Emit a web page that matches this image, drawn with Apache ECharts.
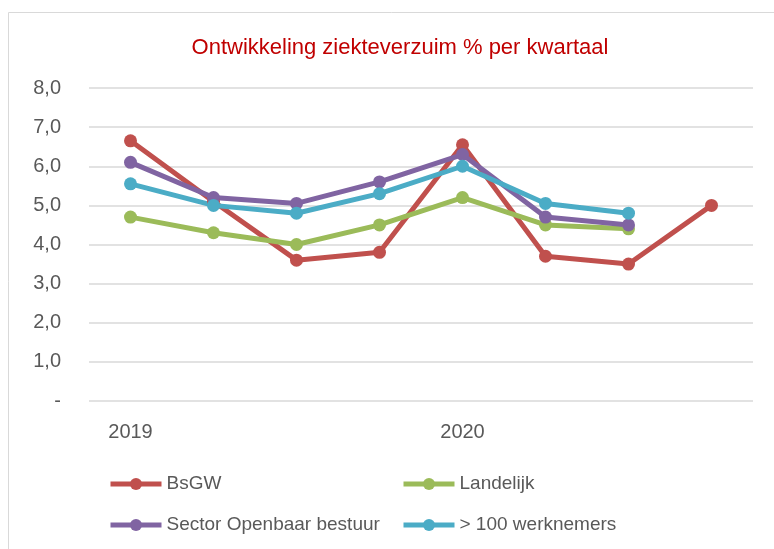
<!DOCTYPE html>
<html>
<head>
<meta charset="utf-8">
<script src="https://cdn.jsdelivr.net/npm/echarts@6/dist/echarts.min.js"></script>
<style>
  html, body { margin: 0; padding: 0; background: #fff; }
  #main { width: 774px; height: 549px; }
</style>
</head>
<body>
<div id="main"></div>
<script>
// kwartalen, alleen het eerste kwartaal van elk jaar krijgt een label
var kwartalen = ['2019', '', '', '', '2020', '', '', ''];
var bsgw = [6.65, 5.1, 3.6, 3.8, 6.55, 3.7, 3.5, 5.0];
var landelijk = [4.7, 4.3, 4.0, 4.5, 5.2, 4.5, 4.4, null];
var sector = [6.1, 5.2, 5.05, 5.6, 6.3, 4.7, 4.5, null];
var werknemers = [5.55, 5.0, 4.8, 5.3, 6.0, 5.05, 4.8, null];

var font = 'Liberation Sans';
var tekst = '#595959';

function lijn(naam, data, kleur) {
    return {
        name: naam,
        type: 'line',
        data: data,
        symbol: 'circle',
        symbolSize: 13,
        lineStyle: { width: 5, color: kleur },
        itemStyle: { color: kleur },
        emphasis: { disabled: true }
    };
}

function legenda(namen, links) {
    return {
        data: namen,
        orient: 'vertical',
        left: links,
        top: 469,
        itemWidth: 51,
        itemHeight: 15,
        itemGap: 21,
        lineStyle: { width: 5 },
        textStyle: { color: tekst, fontSize: 19, lineHeight: 20 }
    };
}

var chart = echarts.init(document.getElementById('main'));
chart.setOption({
    animation: false,
    textStyle: { fontFamily: font },
    title: {
        text: 'Ontwikkeling ziekteverzuim % per kwartaal',
        left: 395,
        textAlign: 'center',
        top: 32,
        textStyle: { color: '#C00000', fontSize: 22, fontWeight: 'normal', fontFamily: font }
    },
    graphic: [{
        type: 'rect',
        shape: { x: 8.5, y: 12.5, width: 900, height: 700 },
        style: { fill: 'none', stroke: '#d9d9d9', lineWidth: 1 },
        silent: true
    }],
    grid: { left: 89, right: 21, top: 88, bottom: 148 },
    xAxis: {
        type: 'category',
        data: kwartalen,
        boundaryGap: true,
        axisLine: { show: false },
        axisTick: { show: false },
        axisLabel: { color: tekst, fontSize: 20, margin: 21, interval: 0 }
    },
    yAxis: {
        type: 'value',
        min: 0,
        max: 8,
        interval: 1,
        axisLine: { show: false },
        axisTick: { show: false },
        splitLine: { lineStyle: { color: '#d9d9d9', width: 1.5 } },
        axisLabel: {
            color: tekst,
            fontSize: 20,
            margin: 28,
            formatter: function (v) {
                return v === 0 ? '-' : v.toFixed(1).replace('.', ',');
            }
        }
    },
    legend: [
        legenda(['BsGW', 'Sector Openbaar bestuur'], 103),
        legenda(['Landelijk', '> 100 werknemers'], 396)
    ],
    series: [
        lijn('BsGW', bsgw, '#C0504D'),
        lijn('Landelijk', landelijk, '#9BBB59'),
        lijn('Sector Openbaar bestuur', sector, '#8064A2'),
        lijn('> 100 werknemers', werknemers, '#4BACC6')
    ]
});
</script>
</body>
</html>
